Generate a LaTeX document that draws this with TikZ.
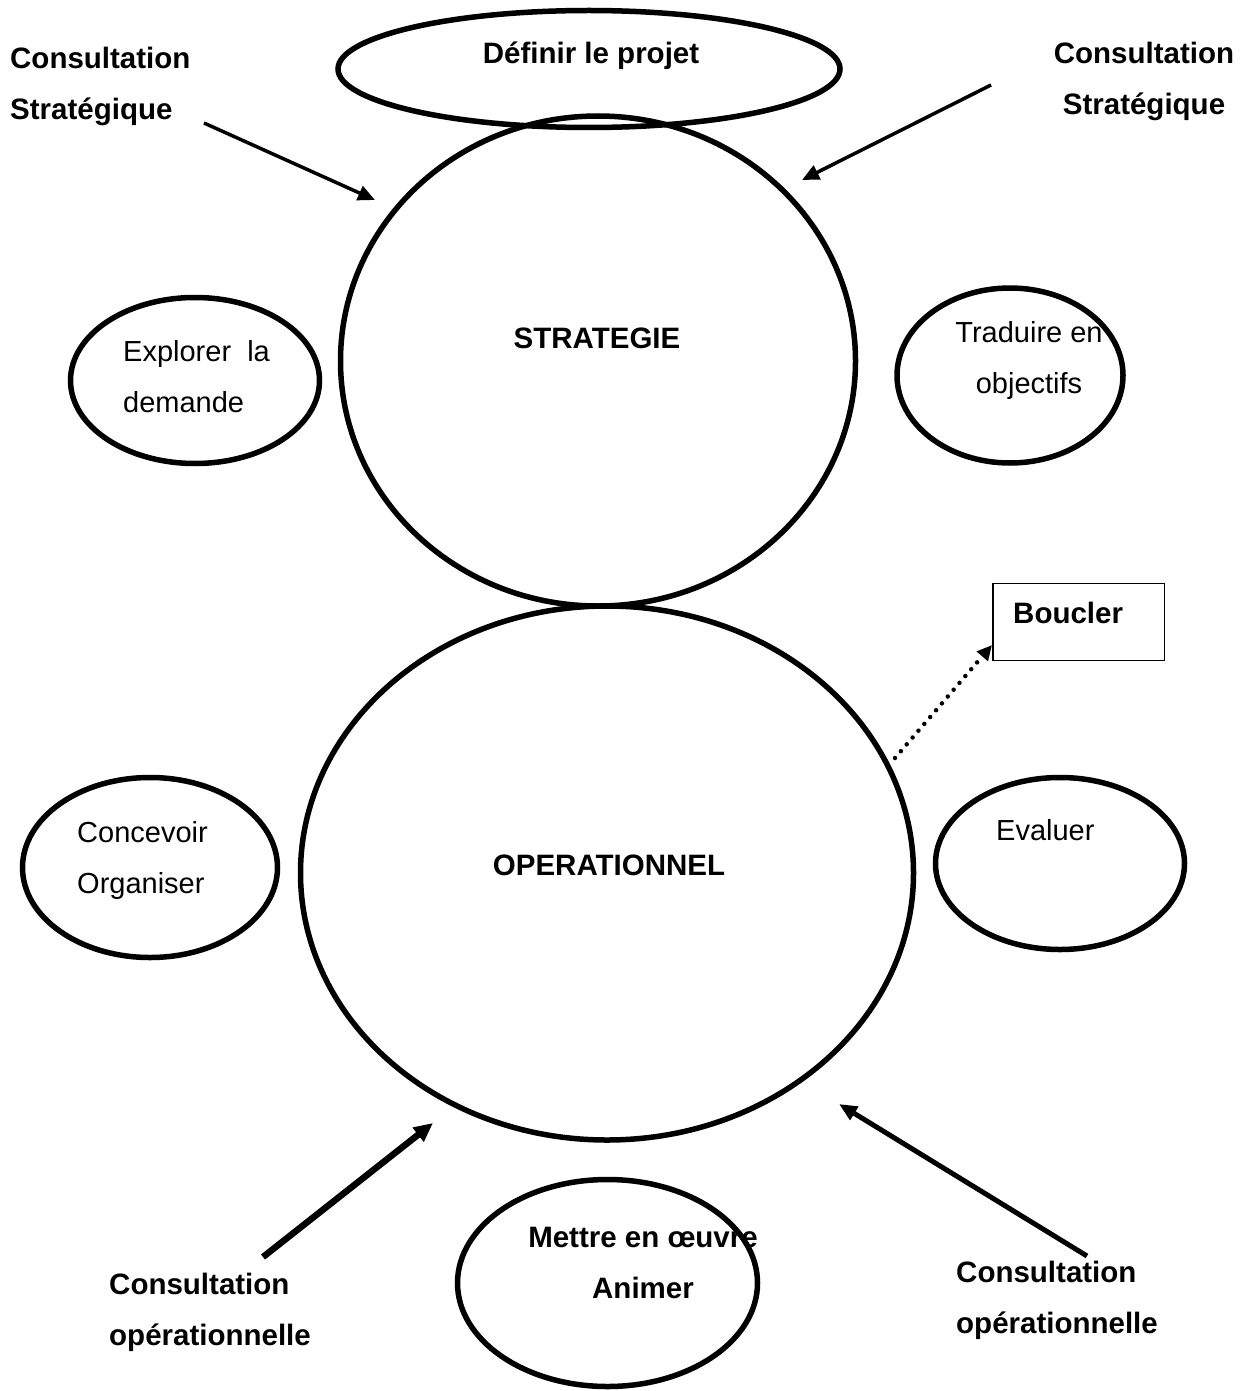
\documentclass[tikz,border=0pt]{standalone}
\usepackage{fontspec}
\setmainfont{Liberation Sans}
\usetikzlibrary{shapes.geometric,arrows.meta}
\begin{document}
\begin{tikzpicture}[x=1pt,y=-1pt,
  oval/.style={draw,ellipse,line width=5.5pt,inner sep=0pt},
  txt/.style={font=\fontsize{29}{51}\selectfont,inner sep=0pt},
  btxt/.style={font=\fontsize{29.5}{51}\selectfont\bfseries,inner sep=0pt},
  arr/.style={-{Triangle[length=17pt,width=15pt]},line width=3.5pt},
  dotarr/.style={-{Triangle[length=15pt,width=14pt]},line width=4.5pt,line cap=round,dash pattern=on 0pt off 9pt}
]
\useasboundingbox[fill=white] (0,0) rectangle (1248,1391);

% ellipses
\node[oval,minimum width=502pt,minimum height=117pt] (defin) at (589,69) {};
\node[oval,minimum width=515pt,minimum height=490pt] (strat) at (598,361) {};
\node[oval,minimum width=613pt,minimum height=534pt] (oper) at (607,873) {};
\node[oval,minimum width=249pt,minimum height=166pt] (expl) at (195,380.5) {};
\node[oval,minimum width=226pt,minimum height=175pt] (trad) at (1010,375.5) {};
\node[oval,minimum width=255pt,minimum height=180pt] (conc) at (150,867.5) {};
\node[oval,minimum width=249pt,minimum height=172pt] (eval) at (1060,863.5) {};
\node[oval,minimum width=300pt,minimum height=207pt] (mett) at (607.5,1283) {};
\node[draw,line width=1.5pt,minimum width=171.5pt,minimum height=77pt,inner sep=0pt] (boucler) at (1078.5,622) {};

% texts (multi-line nodes: base = baseline of the last line)
\node[btxt,anchor=base] (tdef) at (591,64) {Définir le projet};
\node[btxt,anchor=base] (tstrat) at (597,348) {STRATEGIE};
\node[btxt,anchor=base] (toper) at (609,875) {OPERATIONNEL};
\node[txt,anchor=base west,align=left] (texpl) at (123,412) {Explorer\ \ la\\demande};
\node[txt,anchor=base,align=center] (ttrad) at (1029,393) {Traduire en\\objectifs};
\node[txt,anchor=base west,align=left] (tconc) at (77,893) {Concevoir\\Organiser};
\node[txt,anchor=base west] (teval) at (996,840) {Evaluer};
\node[btxt,anchor=base,align=center] (tmett) at (643,1298) {Mettre en œuvre\\Animer};
\node[btxt,anchor=base west] (tboucler) at (1013,623) {Boucler};

\node[btxt,anchor=base west,align=left] (ctl) at (10,120) {Consultation\\Stratégique};
\node[btxt,anchor=base,align=center] (ctr) at (1144,115) {Consultation\\Stratégique};
\node[btxt,anchor=base west,align=left] (cbl) at (109,1345) {Consultation\\opérationnelle};
\node[btxt,anchor=base west,align=left] (cbr) at (956,1333) {Consultation\\opérationnelle};

% arrow ends
\coordinate (tlS) at (204,123);
\coordinate (tlE) at (375,200);
\coordinate (trS) at (991,85);
\coordinate (trE) at (802,180);
\coordinate (blS) at (263,1257);
\coordinate (blE) at (433,1123);
\coordinate (brS) at (1087,1256);
\coordinate (brE) at (839,1104);
\coordinate (dS) at (895,758);

\draw[arr] (tlS) -- (tlE);
\draw[arr] (trS) -- (trE);
\draw[-{Triangle[length=19pt,width=17pt]},line width=6.5pt] (blS) -- (blE);
\draw[-{Triangle[length=18pt,width=15pt]},line width=5pt] (brS) -- (brE);
\draw[dotarr] (dS) -- ([yshift=-23pt]boucler.west);
\end{tikzpicture}
\end{document}
